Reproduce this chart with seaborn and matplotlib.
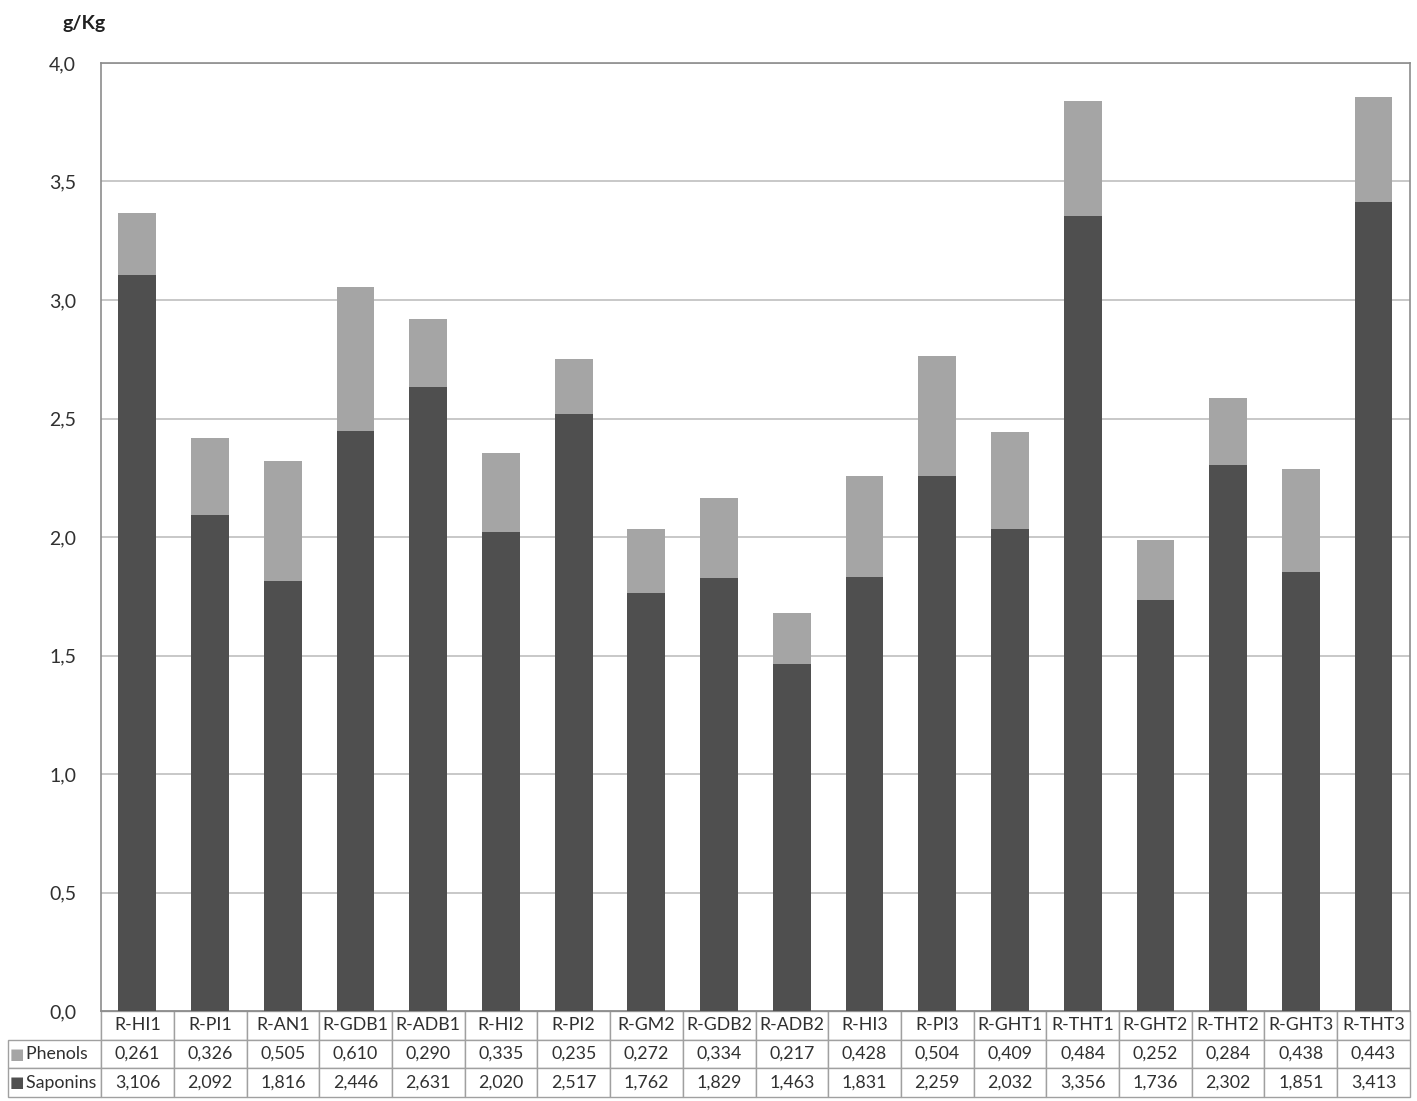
import numpy as np
import pandas as pd
import seaborn as sns
import matplotlib.pyplot as plt

# values
samples = ['R-HI1', 'R-PI1', 'R-AN1', 'R-GDB1', 'R-ADB1', 'R-HI2', 'R-PI2', 'R-GM2', 'R-GDB2',
           'R-ADB2', 'R-HI3', 'R-PI3', 'R-GHT1', 'R-THT1', 'R-GHT2', 'R-THT2', 'R-GHT3', 'R-THT3']
phenols = [0.261, 0.326, 0.505, 0.610, 0.290, 0.335, 0.235, 0.272, 0.334,
           0.217, 0.428, 0.504, 0.409, 0.484, 0.252, 0.284, 0.438, 0.443]
saponins = [3.106, 2.092, 1.816, 2.446, 2.631, 2.020, 2.517, 1.762, 1.829,
            1.463, 1.831, 2.259, 2.032, 3.356, 1.736, 2.302, 1.851, 3.413]
yticks = [0.0, 0.5, 1.0, 1.5, 2.0, 2.5, 3.0, 3.5, 4.0]
ytick_labels = ['0,0', '0,5', '1,0', '1,5', '2,0', '2,5', '3,0', '3,5', '4,0']

light = '#a5a5a5'
dark = '#4f4f4f'
grid_c = '#bfbfbf'

sns.set_theme(style='white')
plt.rcParams['font.family'] = ['Lato', 'DejaVu Sans']

df = pd.DataFrame({'Sample': samples, 'Phenols': phenols, 'Saponins': saponins})
df['Total'] = df['Phenols'] + df['Saponins']

fig = plt.figure(figsize=(14.17, 11.01), dpi=100)
ax = fig.add_axes([0.0713, 0.0817, 0.9237, 0.8611])

# stacked: total (light) drawn first, saponins (dark) on top of it
sns.barplot(data=df, x='Sample', y='Total', color=light, width=0.52, saturation=1,
            linewidth=0, ax=ax, zorder=3)
sns.barplot(data=df, x='Sample', y='Saponins', color=dark, width=0.52, saturation=1,
            linewidth=0, ax=ax, zorder=4)

ax.set_ylim(0, 4.0)
ax.set_xlim(-0.5, len(samples) - 0.5)
ax.set_yticks(yticks)
ax.set_yticklabels(ytick_labels, fontsize=14, color='#303030')
ax.tick_params(axis='y', length=0, pad=18)
ax.set_xticks([])
ax.set_xlabel('')
ax.set_ylabel('')
ax.yaxis.grid(True, color=grid_c, linewidth=1.2, zorder=0)
ax.set_axisbelow(True)
for s in ax.spines.values():
    s.set_color('#8c8c8c')
    s.set_linewidth(1.2)

fig.text(0.044, 0.979, 'g/Kg', fontsize=14, fontweight='bold', color='#202020', va='center')

# data table below the axis
cell_text = [['  Phenols'] + [f'{v:.3f}'.replace('.', ',') for v in phenols],
             ['  Saponins'] + [f'{v:.3f}'.replace('.', ',') for v in saponins]]
col_labels = [''] + samples
col_w = [93] + [72.7] * len(samples)
tbl = ax.table(cellText=cell_text, colLabels=col_labels, colWidths=col_w,
               cellLoc='center', bbox=[-0.071, -0.0907, 1.071, 0.0907])
tbl.auto_set_font_size(False)
tbl.set_fontsize(12.8)
for (r, c), cell in tbl.get_celld().items():
    cell.set_edgecolor('#a0a0a0')
    cell.set_linewidth(1.0)
    cell.get_text().set_color('#303030')
    if r == 0 and c == 0:
        cell.visible_edges = 'R'
    if c == 0 and r > 0:
        cell._loc = 'left'
        cell.PAD = 0.1
        cell.get_text().set_ha('left')

# legend squares inside the table
ax.text(-0.0645, -0.0454, '■', color=light, fontsize=11, transform=ax.transAxes,
        ha='center', va='center', clip_on=False, family='DejaVu Sans')
ax.text(-0.0645, -0.0749, '■', color=dark, fontsize=11, transform=ax.transAxes,
        ha='center', va='center', clip_on=False, family='DejaVu Sans')

fig.savefig('out.png', dpi=100, facecolor='white')
